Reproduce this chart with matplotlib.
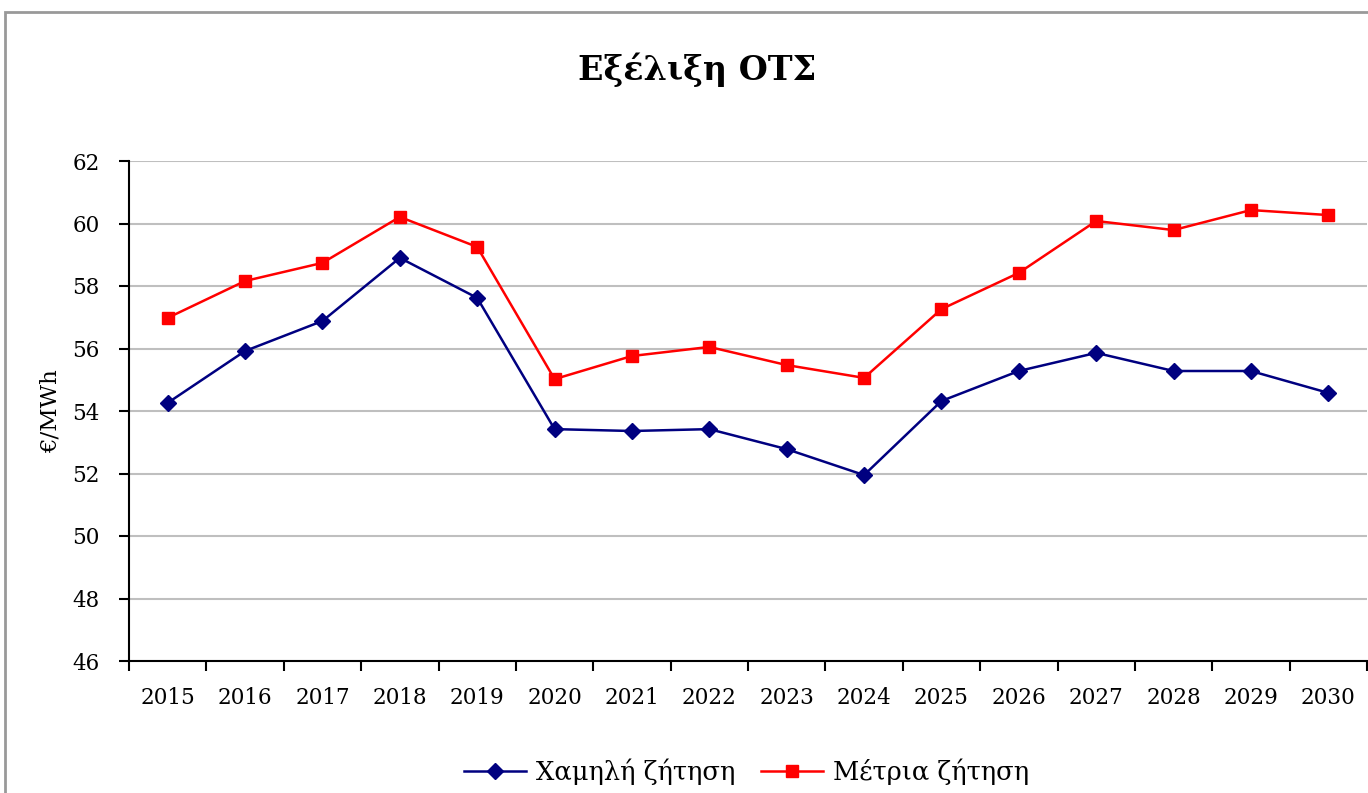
import matplotlib.pyplot as plt
from matplotlib.patches import Rectangle

years = [str(y) for y in range(2015, 2031)]
low_demand = [54.26, 55.92, 56.88, 58.90, 57.62, 53.42, 53.36, 53.42,
              52.78, 51.95, 54.32, 55.28, 55.86, 55.28, 55.28, 54.58]
mid_demand = [56.98, 58.16, 58.74, 60.21, 59.25, 55.02, 55.76, 56.05,
              55.47, 55.06, 57.26, 58.42, 60.08, 59.79, 60.43, 60.27]
yticks = list(range(46, 63, 2))

plt.rcParams['font.family'] = ['DejaVu Serif']

fig = plt.figure(figsize=(13.68, 7.93), dpi=100)
ax = fig.add_axes([129 / 1368, 1 - 661 / 793, (1367 - 129) / 1368, 500 / 793])

# outer chart frame (runs off the right and bottom edge)
fig.patches.append(Rectangle((5 / 1368, -0.1), 1.2, 1 - 12 / 793 + 0.1,
                             transform=fig.transFigure, fill=False,
                             edgecolor='#999999', linewidth=2))

x = range(len(years))
ax.plot(x, low_demand, color='#000080', marker='D', markersize=8, linewidth=1.8,
        label='Χαμηλή ζήτηση')
ax.plot(x, mid_demand, color='#FF0000', marker='s', markersize=9, linewidth=1.8,
        label='Μέτρια ζήτηση')

ax.set_xlim(-0.5, len(years) - 0.5)
ax.set_ylim(46, 62)
ax.set_yticks(yticks)
ax.set_xticks(list(x))
ax.set_xticklabels(years)
ax.set_xticks([i - 0.5 for i in range(len(years) + 1)], minor=True)
ax.tick_params(axis='x', which='major', length=0, pad=19, labelsize=15.5)
ax.tick_params(axis='x', which='minor', length=7, width=1.5, direction='out')
ax.tick_params(axis='y', length=7, width=1.5, direction='out', pad=14, labelsize=15.5)

ax.grid(axis='y', color='#BFBFBF', linewidth=1.5)
ax.set_axisbelow(True)
for side in ['top', 'right']:
    ax.spines[side].set_visible(False)
for side in ['left', 'bottom']:
    ax.spines[side].set_linewidth(1.5)

ax.set_ylabel('€/MWh', fontsize=16.5, labelpad=8)
fig.text(697 / 1368, 1 - 70 / 793, 'Εξέλιξη ΟΤΣ', ha='center', va='center',
         fontsize=24, fontweight='bold')

fig.legend(loc='center', bbox_to_anchor=(747 / 1368, 1 - 772 / 793), ncol=2,
           frameon=False, fontsize=18.5, handlelength=2.4, columnspacing=1.0,
           handletextpad=0.4)

fig.savefig('out.png', dpi=100)
